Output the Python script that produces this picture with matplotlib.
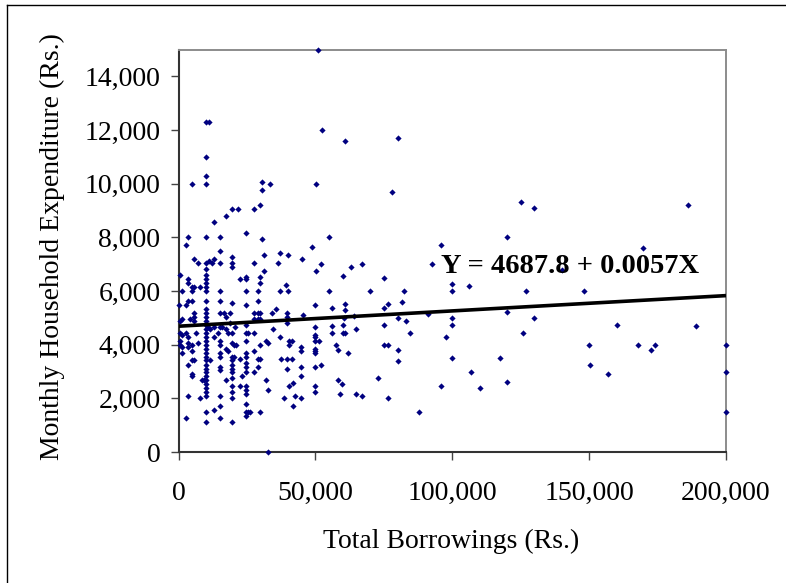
import matplotlib
matplotlib.use("Agg")
import matplotlib.pyplot as plt
from matplotlib.ticker import FuncFormatter
from matplotlib.lines import Line2D

# Total borrowings (Rs.) and monthly household expenditure (Rs.) per household
borrow_hi = [51000, 10000, 11000, 52500, 10000, 61000, 80000, 78000, 125000, 130000, 186000,
             169500, 140000, 127000, 148000, 130000, 126000, 160000, 189000, 150000, 168000,
             172500, 174000, 150500, 157000, 200000, 200000, 200000]
expend_hi = [15000, 12300, 12300, 12000, 11000, 11600, 11700, 9700, 9300, 9100, 9200,
             7600, 6800, 6000, 6000, 5000, 4450, 4750, 4700, 4000, 4000,
             3800, 4000, 3250, 2900, 4000, 3000, 1500]

borrow_mid = [55000, 120000, 96000, 52000, 67000, 92500, 63000, 60000, 75000, 100000, 106000,
              55000, 70000, 82500, 100000, 61000, 81500, 56000, 61000, 75000, 76500, 64000,
              80000, 83000, 91000, 100000, 100000, 120000, 56000, 60500, 56000, 60000, 60000,
              61000, 65000, 75000, 84500, 57500, 58300, 62000, 75000, 76500, 80200, 97700,
              80000, 100000, 117500, 107000, 58300, 59750, 73000, 96000, 110000, 120000,
              59000, 65000, 67000, 76500, 88000]
expend_mid = [8000, 8000, 7700, 7000, 7000, 7000, 6900, 6550, 6500, 6250, 6200,
              6000, 6000, 6000, 6000, 5500, 5600, 5350, 5300, 5350, 5500, 5050,
              5000, 4900, 5150, 5000, 4750, 5200, 4700, 5000, 4450, 4750, 4450,
              4450, 4600, 4750, 4450, 4000, 3800, 3700, 4000, 4000, 3800, 4300,
              3400, 3500, 3500, 3000, 2680, 2530, 2750, 2450, 2400, 2600,
              2150, 2150, 2100, 2000, 1500]

borrow_up = [10200, 5000, 10200, 30600, 30600, 33500, 50300, 13000, 17400, 19600, 21800,
             27600, 29800, 3500, 10200, 15200, 2800, 24800, 30600, 48800, 15200, 5700,
             7200, 10200, 11000, 12300, 13000, 15200, 19600, 19600, 19600, 27600, 31300,
             31300, 36400, 37100, 40100, 45200, 50300, 600, 3500, 3500, 5000, 5700, 7900,
             10200, 10200, 10200, 10200, 10200, 22500, 24700, 24700, 29800, 29800, 39300]
expend_up = [10300, 10000, 10000, 10070, 9780, 10000, 10000, 8590, 8810, 9040, 9040,
             9040, 9190, 8000, 8000, 8000, 7700, 8150, 7925, 7630, 7480, 7180,
             7040, 7040, 7110, 7040, 7180, 7040, 7260, 7040, 6890, 7040, 7330,
             6740, 7040, 7410, 7330, 7180, 6740, 6590, 6440, 6300, 6150, 6150, 6150,
             6150, 6590, 6440, 6300, 6810, 6440, 6520, 6440, 6520, 6300, 6220]

borrow_low = [1300, 5000, 10000, 15000, 24700, 29000, 37000, 40000,
              0, 1330, 600, 600, 1330, 600, 600, 1330, 1330,
              2800, 3500, 5000, 5700, 5700, 5700, 4200, 2800, 3500, 3500, 5000, 3500, 5000,
              3500, 5000, 5700, 5000, 5000, 3500, 2800, 6400, 7100, 8600, 7900, 9300,
              10000, 10000, 10000, 10000, 10000, 10000, 10000, 10000, 10000, 10000, 10000,
              10000, 10000, 10000, 10000, 10000, 10000, 10000, 10000, 10000, 10000, 10000,
              10000, 10000, 10000, 10000, 11600, 11600, 10900,
              13000, 13000, 15100, 15100, 14400, 15100, 15100, 15100, 15100, 15100, 15100,
              15100, 15100, 13000, 15100, 17300, 16600, 18800, 18000, 17300, 17300, 18000,
              15100, 16000, 17300, 20500,
              19500, 19500, 19500, 20200, 20900, 19500, 20200, 19500, 19500, 19500, 19500,
              19500, 19500, 19500, 19500, 19500, 18800,
              22400, 23100, 22400, 24600, 24600, 24600, 25300, 27500, 24600, 24600, 24600,
              24600, 24600, 24600, 24600, 24600, 24600, 24600, 24600, 25300, 24600, 26000,
              27500, 27500, 27500, 27500, 28900, 29600, 28900, 29600, 28900, 28900, 28900,
              29600, 29600, 29600, 31800, 32600, 31800, 32600, 32600, 34700, 35500, 34000,
              36900, 39800, 39800, 39800, 40500, 41300, 40500, 37600, 39800, 39800, 41300,
              44900, 44900, 44900, 44900, 45600, 42000, 40500, 42700, 44900, 38400, 42000,
              50000, 50000, 50000, 50000, 50000, 50000, 50000, 50000, 50000, 50000, 50000,
              51400, 52200]
expend_low = [6000, 6000, 6000, 6000, 6000, 6000, 6000, 6000,
              5480, 4965, 4890, 4446, 4372, 4150, 4000, 3930, 3700,
              5480, 5630, 5630, 5190, 5040, 4890, 4965, 4446, 4300, 4075, 4000, 3930, 3780,
              3260, 3410, 3410, 2890, 2815, 2075, 1260, 4446, 4075, 2670, 2000, 2670,
              5630, 5335, 5190, 5040, 4890, 4740, 4595, 4446, 4300, 4150, 4000,
              3855, 3705, 3555, 3410, 3260, 3110, 2965, 2815, 2670, 2520, 2370,
              2225, 2075, 1480, 1110, 3410, 4595, 4670,
              4670, 4300, 5190, 4670, 4446, 4150, 4000, 3705, 3555, 3185, 3040,
              2075, 1700, 1555, 1260, 5040, 5190, 5190, 4446, 3855, 2670, 3780,
              5630, 4670, 4595, 4670,
              5560, 4446, 4075, 4000, 4000, 3555, 3555, 3410, 3260, 3110, 2965,
              2740, 2445, 2225, 2000, 1110, 4815,
              3480, 2815, 2445, 5480, 4740, 4446, 4446, 4446, 4150, 3705, 3555,
              3335, 3185, 2965, 2445, 2300, 2150, 1780, 1480, 1480, 1335, 1480,
              5190, 4965, 3780, 2965, 3480, 3480, 3185, 1480, 5630, 5190, 4965,
              5190, 4965, 4000, 4150, 4075, 2670, 2300, 0, 4595, 5335, 5190,
              4300, 5190, 5040, 4815, 4150, 4150, 4000, 3480, 3480, 3110, 3480,
              3930, 3780, 3185, 2815, 5110, 2590, 2445, 2075, 2000, 2000, 1700,
              5480, 4670, 4370, 4300, 4150, 3855, 3780, 3705, 3185, 2445, 2225,
              4150, 3260]

borrow = borrow_hi + borrow_mid + borrow_up + borrow_low
expend = expend_hi + expend_mid + expend_up + expend_low

intercept = 4687.8
slope = 0.0057
line_x = [0, 200000]
x_ticks = [0, 50000, 100000, 150000, 200000]
y_ticks = [0, 2000, 4000, 6000, 8000, 10000, 12000, 14000]
equation = "Y = 4687.8 + 0.0057X"
x_title = "Total Borrowings (Rs.)"
y_title = "Monthly Household Expenditure (Rs.)"

plt.rcParams['font.family'] = ['Liberation Serif', 'DejaVu Serif']

fig = plt.figure(figsize=(7.86, 5.83), dpi=100)
ax = fig.add_axes([178.5 / 786, 1 - 452 / 583, (726 - 178.5) / 786, (452 - 49.5) / 583])

ax.scatter(borrow, expend, marker='D', s=10, color='#000080', linewidths=0, clip_on=False, zorder=3)
ax.plot(line_x, [intercept + slope * v for v in line_x], color='black', lw=2.6, zorder=4,
        solid_capstyle='butt')

ax.set_xlim(0, 200000)
ax.set_ylim(0, 15000)
ax.set_xticks(x_ticks)
ax.set_yticks(y_ticks)
fmt = FuncFormatter(lambda v, p: f"{int(v):,}")
ax.xaxis.set_major_formatter(fmt)
ax.yaxis.set_major_formatter(fmt)
ax.tick_params(axis='x', direction='out', length=6, width=1, color='#444444', pad=15, labelsize=20)
ax.tick_params(axis='y', direction='out', length=6, width=1, color='#444444', pad=7, labelsize=20)

for side in ('left', 'bottom'):
    ax.spines[side].set_color('#333333')
    ax.spines[side].set_linewidth(1.5)
for side in ('top', 'right'):
    ax.spines[side].set_color('#8c8c8c')
    ax.spines[side].set_linewidth(1.4)

ax.text(96000, 6664, equation, fontsize=20.5, fontweight='bold', ha='left', va='baseline', zorder=5)

fig.text(451 / 786, 1 - 541 / 583, x_title, fontsize=20, ha='center', va='center')
fig.text(52 / 786, 1 - 247 / 583, y_title, fontsize=20, ha='center', va='center', rotation=90)

# figure border (left and top edges visible)
fig.add_artist(Line2D([7 / 786, 7 / 786], [0, 1 - 5 / 583], transform=fig.transFigure, color='black', lw=1))
fig.add_artist(Line2D([7 / 786, 1], [1 - 5 / 583, 1 - 5 / 583], transform=fig.transFigure, color='black', lw=1))

fig.savefig("out.png", dpi=100)
